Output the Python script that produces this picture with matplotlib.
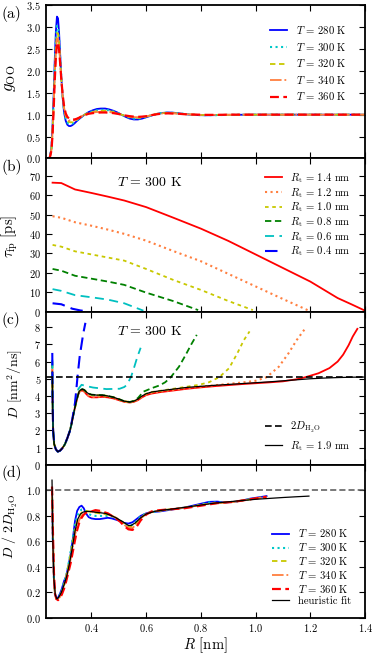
import numpy as np
import matplotlib
matplotlib.use('Agg')
import matplotlib.pyplot as plt

plt.rcParams['font.family'] = 'serif'
plt.rcParams['font.serif'] = ['cmr10', 'DejaVu Serif']
plt.rcParams['mathtext.fontset'] = 'cm'
plt.rcParams['axes.formatter.use_mathtext'] = True
plt.rcParams['axes.unicode_minus'] = False

# ---- panel (a): g_OO(R) for several temperatures ----
temps = [280, 300, 320, 340, 360]
R_g = [0.240, 0.248, 0.254, 0.258, 0.262, 0.266, 0.270, 0.274, 0.278, 0.282, 0.286, 0.290,
       0.295, 0.300, 0.306, 0.312, 0.318, 0.324, 0.330, 0.338, 0.346, 0.355, 0.365, 0.375,
       0.390, 0.405, 0.420, 0.435, 0.450, 0.465, 0.480, 0.495, 0.510, 0.525, 0.540, 0.555,
       0.570, 0.585, 0.600, 0.620, 0.640, 0.660, 0.680, 0.700, 0.720, 0.740, 0.760, 0.790,
       0.820, 0.860, 0.900, 1.000, 1.100, 1.200, 1.300, 1.400]
g_280 = [0.0, 0.02, 0.25, 0.75, 1.45, 2.25, 2.90, 3.24, 3.20, 2.85, 2.35, 1.85,
         1.38, 1.05, 0.86, 0.77, 0.74, 0.74, 0.76, 0.80, 0.85, 0.90, 0.95, 1.00,
         1.06, 1.10, 1.13, 1.14, 1.14, 1.12, 1.09, 1.05, 1.00, 0.95, 0.91, 0.89,
         0.89, 0.91, 0.94, 0.98, 1.02, 1.04, 1.05, 1.045, 1.03, 1.015, 1.00, 0.99,
         0.985, 0.99, 0.995, 1.0, 1.0, 1.0, 1.0, 1.0]
g_300 = [0.0, 0.02, 0.24, 0.70, 1.35, 2.10, 2.70, 3.03, 3.00, 2.72, 2.28, 1.84,
         1.40, 1.10, 0.91, 0.82, 0.79, 0.785, 0.795, 0.83, 0.87, 0.91, 0.955, 1.00,
         1.05, 1.08, 1.10, 1.11, 1.11, 1.10, 1.075, 1.04, 1.00, 0.96, 0.93, 0.91,
         0.91, 0.92, 0.95, 0.985, 1.02, 1.04, 1.045, 1.04, 1.03, 1.015, 1.005, 0.99,
         0.99, 0.99, 0.995, 1.0, 1.0, 1.0, 1.0, 1.0]
g_320 = [0.0, 0.02, 0.22, 0.65, 1.27, 1.98, 2.55, 2.86, 2.86, 2.62, 2.22, 1.81,
         1.40, 1.13, 0.95, 0.87, 0.835, 0.825, 0.83, 0.85, 0.885, 0.92, 0.96, 1.00,
         1.04, 1.065, 1.08, 1.085, 1.085, 1.08, 1.06, 1.035, 1.00, 0.97, 0.945, 0.93,
         0.93, 0.935, 0.955, 0.99, 1.02, 1.035, 1.04, 1.035, 1.025, 1.015, 1.005, 0.995,
         0.99, 0.995, 0.995, 1.0, 1.0, 1.0, 1.0, 1.0]
g_340 = [0.0, 0.02, 0.20, 0.60, 1.20, 1.88, 2.42, 2.72, 2.75, 2.55, 2.18, 1.80,
         1.42, 1.16, 0.99, 0.91, 0.87, 0.86, 0.86, 0.87, 0.90, 0.93, 0.965, 1.00,
         1.03, 1.05, 1.06, 1.065, 1.065, 1.06, 1.045, 1.025, 1.00, 0.975, 0.955, 0.945,
         0.94, 0.945, 0.96, 0.99, 1.015, 1.03, 1.035, 1.03, 1.02, 1.01, 1.005, 0.995,
         0.995, 0.995, 1.0, 1.0, 1.0, 1.0, 1.0, 1.0]
g_360 = [0.0, 0.02, 0.18, 0.55, 1.12, 1.78, 2.30, 2.60, 2.65, 2.48, 2.15, 1.80,
         1.45, 1.20, 1.03, 0.95, 0.91, 0.895, 0.89, 0.89, 0.905, 0.93, 0.965, 0.99,
         1.02, 1.035, 1.045, 1.05, 1.05, 1.045, 1.035, 1.02, 1.00, 0.98, 0.965, 0.955,
         0.95, 0.955, 0.965, 0.99, 1.01, 1.025, 1.03, 1.025, 1.02, 1.01, 1.005, 1.0,
         0.995, 0.995, 1.0, 1.0, 1.0, 1.0, 1.0, 1.0]

# ---- panel (b): mean first passage time for several target radii ----
Rt_labels = ['1.4', '1.2', '1.0', '0.8', '0.6', '0.4']
R_tau_14 = [0.258, 0.29, 0.34, 0.40, 0.46, 0.52, 0.56, 0.60, 0.70, 0.80, 0.90, 1.00, 1.10, 1.20, 1.30, 1.35, 1.40]
tau_14 = [66.5, 66.3, 63.0, 61.2, 59.3, 57.3, 55.6, 53.9, 48.4, 42.8, 36.5, 29.5, 22.5, 15.5, 7.0, 3.8, 0.5]
R_tau_12 = [0.258, 0.29, 0.34, 0.40, 0.46, 0.52, 0.60, 0.70, 0.80, 0.90, 1.00, 1.10, 1.19]
tau_12 = [49.2, 48.4, 46.1, 44.3, 42.3, 40.1, 36.6, 31.2, 26.0, 19.5, 13.0, 6.5, 0.8]
R_tau_10 = [0.258, 0.29, 0.34, 0.40, 0.46, 0.52, 0.60, 0.70, 0.80, 0.90, 0.99]
tau_10 = [34.4, 33.5, 31.1, 29.5, 27.9, 26.3, 22.0, 16.3, 11.2, 5.5, 0.8]
R_tau_08 = [0.258, 0.29, 0.34, 0.40, 0.46, 0.52, 0.60, 0.70, 0.79]
tau_08 = [22.0, 21.1, 18.5, 17.0, 15.5, 13.8, 9.8, 5.4, 0.8]
R_tau_06 = [0.258, 0.29, 0.34, 0.40, 0.46, 0.52, 0.59]
tau_06 = [11.6, 10.7, 8.5, 7.4, 6.2, 4.3, 0.5]
R_tau_04 = [0.258, 0.29, 0.33, 0.36, 0.39]
tau_04 = [4.3, 3.8, 1.5, 0.6, 0.1]

# ---- panel (c): position dependent diffusion coefficient ----
D_water2 = 5.1
R_D_19 = [0.257, 0.258, 0.260, 0.264, 0.270, 0.277, 0.285, 0.293, 0.303, 0.312, 0.321, 0.327,
          0.333, 0.339, 0.345, 0.350, 0.355, 0.361, 0.367, 0.374, 0.382, 0.390, 0.400, 0.420,
          0.440, 0.460, 0.480, 0.500, 0.520, 0.540, 0.555, 0.570, 0.585, 0.600, 0.620, 0.650,
          0.700, 0.750, 0.800, 0.850, 0.900, 0.950, 1.000, 1.050, 1.100, 1.150, 1.200, 1.250,
          1.300, 1.350, 1.400]
D_19 = [5.1, 3.8, 2.0, 1.2, 0.9, 0.77, 0.82, 0.95, 1.19, 1.55, 1.96, 2.35,
        2.82, 3.28, 3.69, 4.0, 4.26, 4.36, 4.40, 4.35, 4.22, 4.13, 4.08, 4.05,
        4.05, 4.0, 3.93, 3.82, 3.70, 3.65, 3.70, 3.82, 4.0, 4.13, 4.23, 4.30,
        4.40, 4.50, 4.56, 4.62, 4.67, 4.72, 4.77, 4.82, 4.88, 4.94, 5.0, 5.04,
        5.07, 5.09, 5.1]
R_D_14 = [0.257, 0.258, 0.260, 0.264, 0.270, 0.277, 0.285, 0.293, 0.303, 0.312, 0.321, 0.327,
          0.333, 0.339, 0.345, 0.350, 0.355, 0.361, 0.367, 0.374, 0.382, 0.390, 0.400, 0.420,
          0.440, 0.460, 0.480, 0.500, 0.520, 0.540, 0.555, 0.570, 0.585, 0.600, 0.620, 0.650,
          0.700, 0.750, 0.800, 0.850, 0.900, 0.950, 1.000, 1.050, 1.100, 1.150, 1.180, 1.230,
          1.270, 1.300, 1.320, 1.340, 1.355, 1.372]
D_14 = [5.5, 3.8, 2.0, 1.2, 0.9, 0.77, 0.82, 0.95, 1.19, 1.55, 1.96, 2.35,
        2.82, 3.28, 3.69, 4.0, 4.22, 4.30, 4.32, 4.25, 4.10, 3.98, 3.92, 3.92,
        3.95, 3.92, 3.86, 3.76, 3.66, 3.62, 3.66, 3.76, 3.92, 4.05, 4.14, 4.22,
        4.32, 4.42, 4.50, 4.57, 4.63, 4.69, 4.74, 4.79, 4.85, 4.97, 5.08, 5.32,
        5.62, 6.0, 6.4, 6.95, 7.45, 7.9]
R_D_12 = [0.257, 0.258, 0.260, 0.264, 0.270, 0.277, 0.285, 0.293, 0.303, 0.312, 0.321, 0.327,
          0.333, 0.339, 0.345, 0.350, 0.355, 0.361, 0.367, 0.374, 0.382, 0.390, 0.400, 0.420,
          0.440, 0.460, 0.480, 0.500, 0.520, 0.540, 0.555, 0.570, 0.585, 0.600, 0.620, 0.650,
          0.700, 0.750, 0.800, 0.850, 0.900, 0.950, 1.000, 1.040, 1.085, 1.120, 1.150, 1.178]
D_12 = [5.6, 3.8, 2.0, 1.2, 0.9, 0.77, 0.82, 0.95, 1.19, 1.55, 1.96, 2.35,
        2.82, 3.28, 3.69, 4.0, 4.24, 4.32, 4.35, 4.28, 4.14, 4.02, 3.95, 3.95,
        3.98, 3.95, 3.88, 3.78, 3.67, 3.63, 3.67, 3.78, 3.95, 4.08, 4.18, 4.25,
        4.36, 4.46, 4.54, 4.62, 4.70, 4.78, 4.88, 5.09, 5.70, 6.47, 7.24, 7.85]
R_D_10 = [0.257, 0.258, 0.260, 0.264, 0.270, 0.277, 0.285, 0.293, 0.303, 0.312, 0.321, 0.327,
          0.333, 0.339, 0.345, 0.350, 0.355, 0.361, 0.367, 0.374, 0.382, 0.390, 0.400, 0.420,
          0.440, 0.460, 0.480, 0.500, 0.520, 0.540, 0.555, 0.570, 0.585, 0.600, 0.620, 0.650,
          0.700, 0.750, 0.794, 0.830, 0.867, 0.903, 0.933, 0.957, 0.978]
D_10 = [5.8, 3.8, 2.0, 1.2, 0.9, 0.77, 0.82, 0.95, 1.19, 1.55, 1.96, 2.35,
        2.82, 3.28, 3.69, 4.0, 4.26, 4.36, 4.40, 4.35, 4.22, 4.12, 4.06, 4.04,
        4.04, 4.0, 3.93, 3.82, 3.70, 3.65, 3.70, 3.82, 4.0, 4.13, 4.23, 4.30,
        4.42, 4.54, 4.65, 4.80, 5.09, 5.61, 6.47, 7.24, 7.75]
R_D_08 = [0.257, 0.258, 0.260, 0.264, 0.270, 0.277, 0.285, 0.293, 0.303, 0.312, 0.321, 0.327,
          0.333, 0.339, 0.345, 0.350, 0.355, 0.361, 0.367, 0.374, 0.382, 0.390, 0.400, 0.420,
          0.440, 0.460, 0.480, 0.500, 0.520, 0.540, 0.555, 0.570, 0.590, 0.620, 0.650, 0.670,
          0.690, 0.720, 0.745, 0.765, 0.785]
D_08 = [6.0, 3.8, 2.0, 1.2, 0.9, 0.77, 0.82, 0.95, 1.19, 1.55, 1.96, 2.35,
        2.82, 3.28, 3.69, 4.0, 4.26, 4.36, 4.40, 4.35, 4.22, 4.13, 4.08, 4.05,
        4.05, 4.0, 3.93, 3.82, 3.70, 3.65, 3.72, 3.88, 4.25, 4.45, 4.62, 4.80,
        5.09, 5.70, 6.40, 7.00, 7.55]
R_D_06 = [0.257, 0.258, 0.260, 0.264, 0.270, 0.277, 0.285, 0.293, 0.303, 0.312, 0.321, 0.327,
          0.333, 0.339, 0.345, 0.352, 0.364, 0.380, 0.406, 0.455, 0.503, 0.520, 0.530, 0.545,
          0.555, 0.564, 0.572, 0.580]
D_06 = [6.1, 3.8, 2.0, 1.2, 0.9, 0.77, 0.82, 0.95, 1.19, 1.55, 1.96, 2.35,
        2.82, 3.30, 3.80, 4.40, 4.65, 4.58, 4.49, 4.40, 4.42, 4.52, 4.65, 5.12,
        5.60, 6.07, 6.45, 6.80]
R_D_04 = [0.257, 0.258, 0.260, 0.264, 0.270, 0.277, 0.285, 0.293, 0.303, 0.312, 0.321, 0.327,
          0.333, 0.340, 0.345, 0.349, 0.357, 0.364, 0.370, 0.378]
D_04 = [6.5, 3.8, 2.0, 1.2, 0.9, 0.77, 0.82, 0.95, 1.19, 1.55, 1.96, 2.40,
        2.92, 3.60, 4.40, 5.09, 6.28, 7.00, 7.62, 8.25]

# ---- panel (d): D / 2D_H2O for several temperatures ----
R_n = [0.256, 0.259, 0.263, 0.267, 0.272, 0.278, 0.285, 0.292, 0.300, 0.308, 0.316, 0.324,
       0.332, 0.340, 0.348, 0.356, 0.364, 0.372, 0.380, 0.390, 0.400, 0.415, 0.430, 0.445,
       0.460, 0.475, 0.490, 0.505, 0.520, 0.535, 0.550, 0.565, 0.580, 0.600, 0.620, 0.650,
       0.680, 0.710, 0.740, 0.770, 0.800, 0.830, 0.860, 0.890, 0.920, 0.950, 0.980, 1.010,
       1.040]
n_280 = [1.0, 0.6, 0.3, 0.19, 0.155, 0.16, 0.19, 0.23, 0.29, 0.33, 0.41, 0.50,
         0.62, 0.76, 0.84, 0.87, 0.88, 0.86, 0.82, 0.79, 0.78, 0.775, 0.775, 0.78,
         0.785, 0.78, 0.77, 0.76, 0.745, 0.74, 0.75, 0.775, 0.80, 0.82, 0.83, 0.835,
         0.845, 0.855, 0.865, 0.88, 0.895, 0.91, 0.912, 0.905, 0.91, 0.92, 0.935, 0.945,
         0.955]
n_300 = [1.02, 0.62, 0.3, 0.18, 0.15, 0.155, 0.185, 0.22, 0.28, 0.33, 0.42, 0.52,
         0.63, 0.73, 0.80, 0.835, 0.85, 0.85, 0.835, 0.815, 0.805, 0.80, 0.80, 0.80,
         0.80, 0.795, 0.78, 0.765, 0.74, 0.725, 0.73, 0.76, 0.795, 0.82, 0.83, 0.84,
         0.85, 0.855, 0.865, 0.875, 0.89, 0.905, 0.905, 0.905, 0.91, 0.92, 0.93, 0.94,
         0.95]
n_320 = [1.02, 0.65, 0.3, 0.18, 0.15, 0.15, 0.175, 0.21, 0.26, 0.33, 0.41, 0.50,
         0.60, 0.69, 0.76, 0.80, 0.825, 0.835, 0.84, 0.835, 0.83, 0.825, 0.82, 0.815,
         0.81, 0.80, 0.785, 0.765, 0.74, 0.715, 0.715, 0.745, 0.785, 0.815, 0.83, 0.84,
         0.85, 0.855, 0.865, 0.875, 0.885, 0.895, 0.90, 0.905, 0.91, 0.92, 0.93, 0.94,
         0.95]
n_340 = [1.02, 0.68, 0.32, 0.18, 0.15, 0.145, 0.165, 0.20, 0.25, 0.31, 0.38, 0.46,
         0.56, 0.65, 0.72, 0.77, 0.80, 0.82, 0.83, 0.835, 0.835, 0.835, 0.83, 0.825,
         0.815, 0.80, 0.785, 0.76, 0.73, 0.705, 0.705, 0.735, 0.78, 0.815, 0.83, 0.845,
         0.85, 0.855, 0.865, 0.875, 0.885, 0.895, 0.90, 0.905, 0.91, 0.92, 0.93, 0.94,
         0.95]
n_360 = [1.03, 0.7, 0.35, 0.19, 0.15, 0.14, 0.155, 0.185, 0.23, 0.29, 0.36, 0.43,
         0.52, 0.61, 0.69, 0.75, 0.785, 0.81, 0.825, 0.83, 0.835, 0.845, 0.84, 0.83,
         0.82, 0.80, 0.78, 0.755, 0.72, 0.695, 0.69, 0.715, 0.765, 0.81, 0.835, 0.845,
         0.85, 0.855, 0.86, 0.87, 0.88, 0.89, 0.90, 0.905, 0.91, 0.92, 0.93, 0.94,
         0.95]
R_fit = [0.256, 0.259, 0.263, 0.268, 0.274, 0.280, 0.290, 0.300, 0.310, 0.320, 0.330, 0.340,
         0.350, 0.360, 0.370, 0.380, 0.395, 0.410, 0.430, 0.450, 0.470, 0.490, 0.510, 0.525,
         0.535, 0.545, 0.560, 0.580, 0.600, 0.630, 0.660, 0.700, 0.750, 0.800, 0.850, 0.900,
         0.950, 1.000, 1.050, 1.100, 1.150, 1.195]
n_fit = [1.08, 0.6, 0.3, 0.18, 0.15, 0.16, 0.2, 0.26, 0.33, 0.43, 0.55, 0.68,
         0.775, 0.815, 0.83, 0.835, 0.835, 0.83, 0.825, 0.82, 0.805, 0.785, 0.76, 0.74,
         0.725, 0.725, 0.745, 0.785, 0.815, 0.835, 0.845, 0.855, 0.87, 0.885, 0.90, 0.91,
         0.92, 0.93, 0.937, 0.944, 0.95, 0.955]

# styles
T_styles = [dict(color='#0000ff', ls='-', lw=1.3),
            dict(color='#00c8c8', ls=':', lw=1.5),
            dict(color='#c8c800', ls=(0, (3, 2)), lw=1.3),
            dict(color='#ff7f3f', ls='-.', lw=1.3),
            dict(color='#ff0000', ls=(0, (4, 2)), lw=1.6)]
Rt_styles = [dict(color='#ff0000', ls='-', lw=1.3),
             dict(color='#ff7f3f', ls=':', lw=1.5),
             dict(color='#c8c800', ls=(0, (2, 2)), lw=1.3),
             dict(color='#008000', ls=(0, (3.5, 2)), lw=1.3),
             dict(color='#00c0c0', ls=(0, (5, 3)), lw=1.3),
             dict(color='#0000ff', ls=(0, (6, 3)), lw=1.5)]

leg_kw = dict(frameon=False, fontsize=7.7, handlelength=1.6, borderaxespad=0)

fig, axes = plt.subplots(4, 1, sharex=True, figsize=(3.74, 6.54), dpi=100)
fig.subplots_adjust(left=0.123, right=0.976, top=0.992, bottom=0.055, hspace=0)
ax_a, ax_b, ax_c, ax_d = axes

# (a)
for T, g, st in zip(temps, [g_280, g_300, g_320, g_340, g_360], T_styles):
    ax_a.plot(R_g, g, label=r'$T\,=\,%d$ K' % T, **st)
ax_a.set_ylim(0, 3.5)
ax_a.set_yticks(np.arange(0, 3.51, 0.5))
ax_a.set_ylabel(r'$g_{\rm OO}$', fontsize=12)
ax_a.legend(loc='upper right', bbox_to_anchor=(0.955, 0.905), labelspacing=0.43, **leg_kw)

# (b)
R_tau = [R_tau_14, R_tau_12, R_tau_10, R_tau_08, R_tau_06, R_tau_04]
taus = [tau_14, tau_12, tau_10, tau_08, tau_06, tau_04]
for lab, r, t, st in zip(Rt_labels, R_tau, taus, Rt_styles):
    ax_b.plot(r, t, label=r'$R_{\rm t}\,=\,%s$ nm' % lab, **st)
ax_b.set_ylim(0, 79)
ax_b.set_yticks(np.arange(0, 71, 10))
ax_b.set_ylabel(r'$\tau_{\rm fp}$ [ps]', fontsize=10.5)
ax_b.text(0.495, 66.6, r'$T\,=\,300$ K', fontsize=10, ha='left', va='center')
ax_b.legend(loc='upper right', bbox_to_anchor=(0.97, 0.945), labelspacing=0.08, **leg_kw)

# (c)
R_D = [R_D_14, R_D_12, R_D_10, R_D_08, R_D_06, R_D_04]
Ds = [D_14, D_12, D_10, D_08, D_06, D_04]
for r, d, st in zip(R_D, Ds, Rt_styles):
    ax_c.plot(r, d, **st)
h1 = ax_c.axhline(D_water2, color='black', ls=(0, (4, 2)), lw=1.2,
                  label=r'$2D_{\rm H_2O}$')
h2, = ax_c.plot(R_D_19, D_19, color='black', lw=0.9, label=r'$R_{\rm t}\,=\,1.9$ nm')
ax_c.set_ylim(0, 8.9)
ax_c.set_yticks(np.arange(0, 9, 1))
ax_c.set_ylabel(r'$D$ [nm$^2$/ns]', fontsize=10)
ax_c.text(0.495, 7.75, r'$T\,=\,300$ K', fontsize=10, ha='left', va='center')
ax_c.legend(handles=[h1, h2], loc='lower right', bbox_to_anchor=(0.97, 0.05),
            labelspacing=0.35, **leg_kw)

# (d)
for T, n, st in zip(temps, [n_280, n_300, n_320, n_340, n_360], T_styles):
    ax_d.plot(R_n, n, label=r'$T\,=\,%d$ K' % T, **st)
ax_d.axhline(1.0, color='#555555', ls=(0, (4, 2)), lw=1.1)
ax_d.plot(R_fit, n_fit, color='black', lw=0.9, label='heuristic fit')
ax_d.set_ylim(0, 1.2)
ax_d.set_yticks(np.arange(0, 1.01, 0.2))
ax_d.set_ylabel(r'$D\ /\ 2D_{\rm H_2O}$', fontsize=10)
ax_d.set_xlabel(r'$R$ [nm]', fontsize=10.5, labelpad=1)
ax_d.legend(loc='lower right', bbox_to_anchor=(0.97, 0.05), labelspacing=0.17, **leg_kw)

ax_d.set_xlim(0.234, 1.4)
ax_d.set_xticks([0.4, 0.6, 0.8, 1.0, 1.2, 1.4])

ylab_pos = [(-0.088, 0.52), (-0.082, 0.49), (-0.066, 0.53), (-0.082, 0.6)]
for ax, lab, (yx, yy) in zip(axes, ['(a)', '(b)', '(c)', '(d)'], ylab_pos):
    ax.tick_params(direction='in', top=True, right=True, length=4, width=0.8, labelsize=7.5)
    ax.tick_params(axis='x', pad=2.5)
    for sp in ax.spines.values():
        sp.set_linewidth(1.3)
    ax.yaxis.set_label_coords(yx, yy)
    ax.text(-0.138, 0.945, lab, transform=ax.transAxes, fontsize=11, ha='left', va='center')

fig.savefig('out.png', dpi=100)
